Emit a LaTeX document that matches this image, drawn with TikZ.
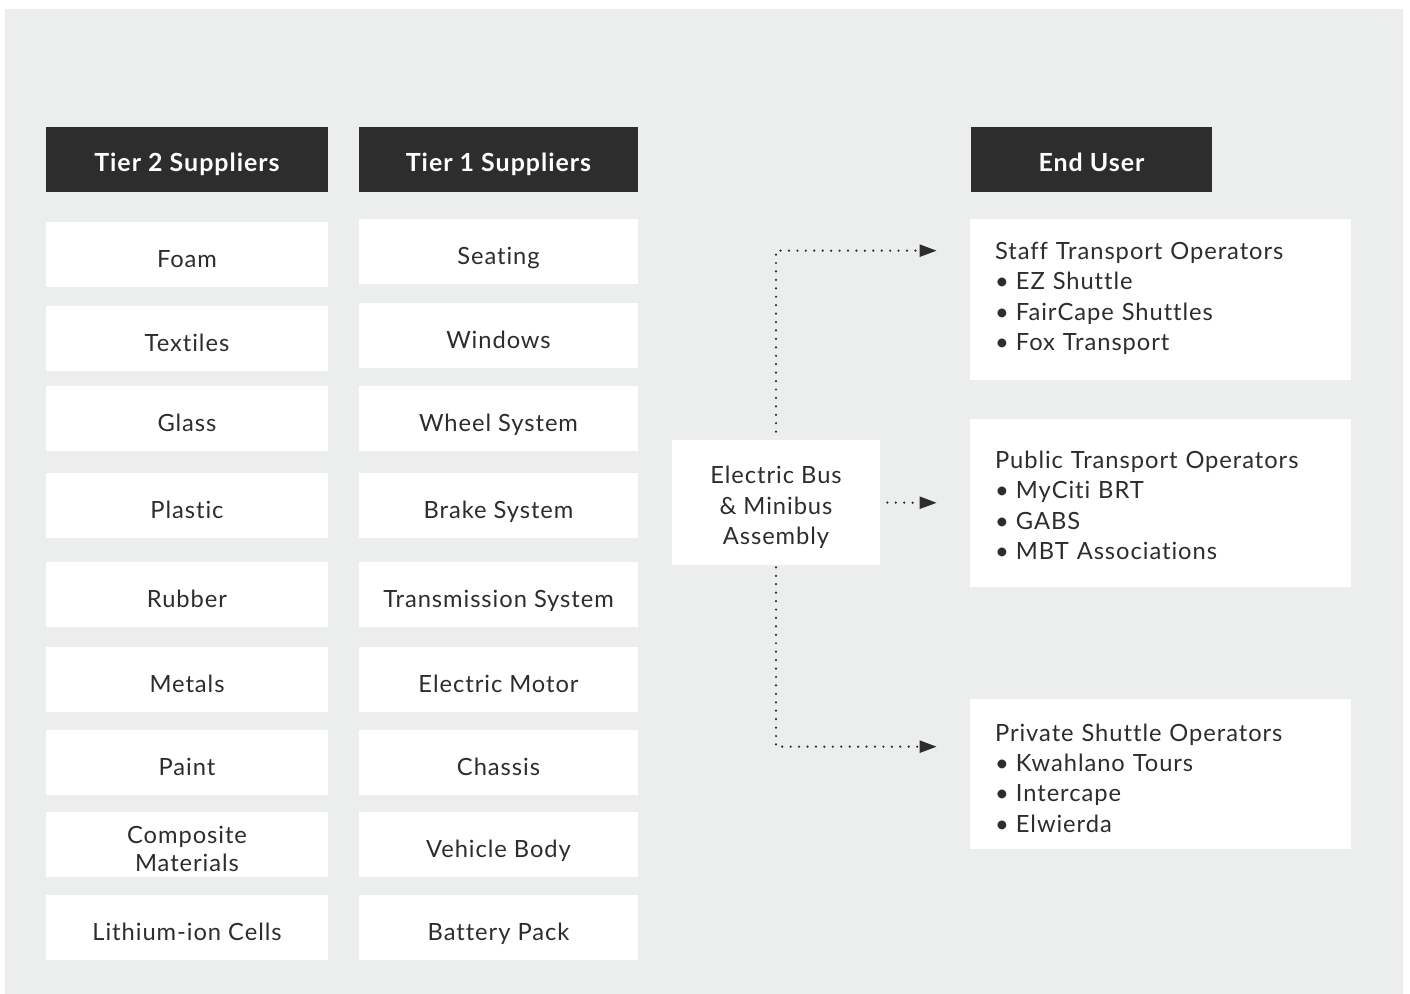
\documentclass[tikz,border=0pt]{standalone}
\usepackage{fontspec}
\setmainfont{Lato}[LetterSpace=4, Ligatures=NoCommon]
\usepackage{xcolor}
\usepackage{tikz}
\usetikzlibrary{arrows.meta, positioning}

\definecolor{panel}{HTML}{ECEEED}
\definecolor{ink}{HTML}{2D2D2D}

\begin{document}
\begin{tikzpicture}[
        x=0.02cm, y=-0.02cm,
        header/.style={rectangle, fill=ink, text=white, inner sep=0pt, minimum height=1.3cm, text height=0.46cm, text depth=0pt, font=\fontsize{14.2}{16}\selectfont\bfseries},
        part/.style={rectangle, fill=white, text=ink, inner sep=0pt, minimum height=1.3cm, text height=0.5cm, text depth=0pt, align=center, font=\fontsize{13.5}{15.4}\selectfont},
        tiertwo/.style={part, minimum width=5.64cm},
        tierone/.style={part, minimum width=5.58cm},
        user/.style={rectangle, fill=white, text=ink, inner xsep=0.5cm, inner ysep=0pt, minimum width=7.62cm, text width=6.62cm, text height=0.5cm, align=left, font=\fontsize{13.5}{17.3}\selectfont},
        link/.style={ink, line width=1.4pt, line cap=round, dash pattern=on 0pt off 4.8pt, -{Triangle[length=9.7pt, width=6.8pt]}}
    ]

    % Background
    \path[fill=white] (0,0) rectangle (1410,994);
    \fill[panel] (5,9) rectangle (1403,994);

    % Headers
    \node[header, minimum width=5.64cm] (tiertwo) at (187,159.5) {Tier 2 Suppliers};
    \node[header, minimum width=5.58cm] (tierone) at (498.5,159.5) {Tier 1 Suppliers};
    \node[header, minimum width=4.82cm] (enduser) at (1091.5,159.5) {End User};

    % Tier 2
    \node[tiertwo] (foam) at (187,254.5) {Foam};
    \node[tiertwo] (textiles) at (187,338.5) {Textiles};
    \node[tiertwo] (glass) at (187,418.5) {Glass};
    \node[tiertwo] (plastic) at (187,505.5) {Plastic};
    \node[tiertwo] (rubber) at (187,594.5) {Rubber};
    \node[tiertwo] (metals) at (187,679.5) {Metals};
    \node[tiertwo] (paint) at (187,762.5) {Paint};
    \node[tiertwo, text height=1.06cm] (composite) at (187,844.5) {Composite\\Materials};
    \node[tiertwo] (lithium) at (187,927.5) {Lithium-ion Cells};

    % Tier 1
    \node[tierone] (seating) at (498.5,251.5) {Seating};
    \node[tierone] (windows) at (498.5,335.5) {Windows};
    \node[tierone] (wheel) at (498.5,418.5) {Wheel System};
    \node[tierone] (brake) at (498.5,505.5) {Brake System};
    \node[tierone] (transmission) at (498.5,594.5) {Transmission System};
    \node[tierone] (motor) at (498.5,679.5) {Electric Motor};
    \node[tierone] (chassis) at (498.5,762.5) {Chassis};
    \node[tierone] (body) at (498.5,844.5) {Vehicle Body};
    \node[tierone] (battery) at (498.5,927.5) {Battery Pack};

    % Assembly
    \node[part, minimum width=4.16cm, minimum height=2.5cm, text height=1.7cm, font=\fontsize{13.5}{17.6}\selectfont] (assembly) at (776,502.5) {Electric Bus\\\& Minibus\\Assembly};

    % End users
    \node[user, minimum height=3.22cm, text depth=2.11cm] (staff) at (1160.5,299.5) {Staff Transport Operators\\\textbullet\hspace{0.3em}EZ Shuttle\\\textbullet\hspace{0.3em}FairCape Shuttles\\\textbullet\hspace{0.3em}Fox Transport};
    \node[user, minimum height=3.36cm, text depth=1.89cm] (public) at (1160.5,503) {Public Transport Operators\\\textbullet\hspace{0.3em}MyCiti BRT\\\textbullet\hspace{0.3em}GABS\\\textbullet\hspace{0.3em}MBT Associations};
    \node[user, minimum height=3.0cm, text depth=1.82cm] (private) at (1160.5,774) {Private Shuttle Operators\\\textbullet\hspace{0.3em}Kwahlano Tours\\\textbullet\hspace{0.3em}Intercape\\\textbullet\hspace{0.3em}Elwierda};

    \coordinate (staffin) at ([xshift=-0.66cm, yshift=-0.64cm]staff.north west);
    \coordinate (privatein) at ([xshift=-0.66cm, yshift=-0.96cm]private.north west);

    % Arrows
    \draw[link] ([yshift=0.16cm]assembly.north) |- (staffin);
    \draw[link, shorten <=0.14cm, shorten >=0.66cm] (assembly.east) -- (public.west);
    \draw[link] ([yshift=-0.04cm]assembly.south) |- (privatein);

\end{tikzpicture}
\end{document}
